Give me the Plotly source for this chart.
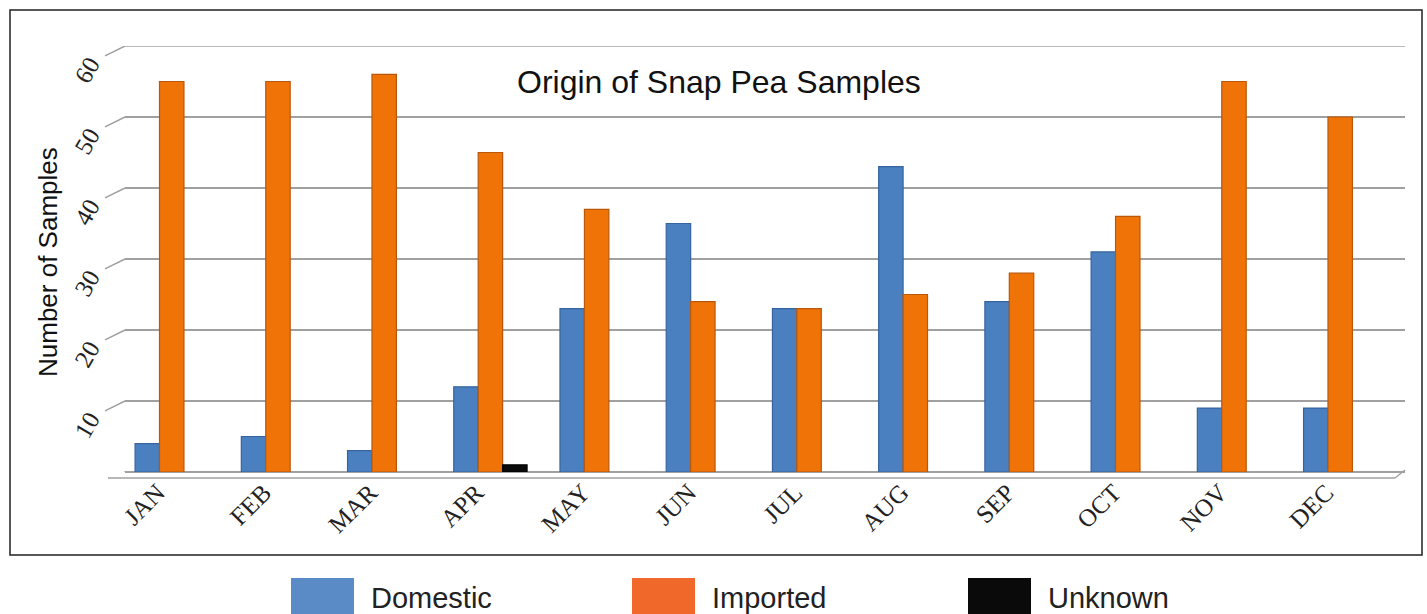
import plotly.graph_objects as go

months = ["JAN", "FEB", "MAR", "APR", "MAY", "JUN", "JUL", "AUG", "SEP", "OCT", "NOV", "DEC"]
domestic = [4, 5, 3, 12, 23, 35, 23, 43, 24, 31, 9, 9]
imported = [55, 55, 56, 45, 37, 24, 23, 25, 28, 36, 55, 50]
unknown = [None, None, None, 1, None, None, None, None, None, None, None, None]
ytick_vals = [0, 10, 20, 30, 40, 50, 60]
ytick_text = ["", "10", "20", "30", "40", "50", "60"]

series = [
    ("Domestic", domestic, "#4A7FC0", "#35649E", "#5B8BC6"),
    ("Imported", imported, "#F07308", "#B9580A", "#F0682A"),
    ("Unknown", unknown, "#0A0A0A", "#000000", "#0A0A0A"),
]

W, H = 1427, 614
L, R, T, B = 125, 22, 46, 142
pw, ph = W - L - R, H - T - B


def px2paper(x, y):
    return (x - L) / pw, (H - B - y) / ph


fig = go.Figure()
for name, vals, col, line, _ in series:
    fig.add_trace(go.Bar(
        x=months, y=vals, name=name,
        marker=dict(color=col, line=dict(color=line, width=1.2)),
        showlegend=False,
    ))

shapes = []
# outer frame
x0, y0 = px2paper(10, 555)
x1, y1 = px2paper(1422, 10)
shapes.append(dict(type="rect", xref="paper", yref="paper", x0=x0, y0=y0, x1=x1, y1=y1,
                   line=dict(color="#222", width=1.5), fillcolor="rgba(0,0,0,0)", layer="below"))
# perspective slants on the left of gridlines
for v in ytick_vals:
    shapes.append(dict(type="line", xref="paper", yref="y",
                       x0=px2paper(105, 0)[0], x1=0, y0=v - 1.4, y1=v,
                       line=dict(color="#A0A0A0", width=1.5)))
# top gridline (at range edge)
shapes.append(dict(type="line", xref="paper", yref="y", x0=0, x1=1, y0=60, y1=60,
                   line=dict(color="#A0A0A0", width=1.5)))
# front floor edge
fx0, fy = px2paper(108, 478)
fx1, _ = px2paper(1395, 478)
bx1, by = px2paper(1405, 470)
shapes.append(dict(type="line", xref="paper", yref="paper", x0=fx0, x1=fx1, y0=fy, y1=fy,
                   line=dict(color="#A0A0A0", width=1.5)))
shapes.append(dict(type="line", xref="paper", yref="paper", x0=fx1, x1=bx1, y0=fy, y1=by,
                   line=dict(color="#A0A0A0", width=1.5)))

annotations = []
# custom legend
leg_x = [291, 632, 968]
for (name, _, _, _, swatch), lx in zip(series, leg_x):
    sx0, sy0 = px2paper(lx, 614)
    sx1, sy1 = px2paper(lx + 63, 578)
    shapes.append(dict(type="rect", xref="paper", yref="paper", x0=sx0, y0=sy0, x1=sx1, y1=sy1,
                       line=dict(width=0), fillcolor=swatch))
    tx, ty = px2paper(lx + 78, 598)
    annotations.append(dict(text=name, xref="paper", yref="paper", x=tx, y=ty,
                            xanchor="left", yanchor="middle", showarrow=False,
                            font=dict(family="Liberation Sans, Arial", size=29, color="#222")))

# title
tx, ty = px2paper(719, 82)
annotations.append(dict(text="Origin of Snap Pea Samples", xref="paper", yref="paper", x=tx, y=ty,
                        xanchor="center", yanchor="middle", showarrow=False,
                        font=dict(family="Liberation Sans, Arial", size=32, color="#111")))
# y title
tx, ty = px2paper(48, 262)
annotations.append(dict(text="Number of Samples", xref="paper", yref="paper", x=tx, y=ty,
                        xanchor="center", yanchor="middle", showarrow=False, textangle=-90,
                        font=dict(family="Liberation Sans, Arial", size=26, color="#111")))

fig.update_layout(
    width=W, height=H,
    margin=dict(l=L, r=R, t=T, b=B),
    paper_bgcolor="white", plot_bgcolor="white",
    barmode="group", bargap=0.31, bargroupgap=0,
    shapes=shapes, annotations=annotations,
    showlegend=False,
)
fig.update_xaxes(
    range=[-0.44, 11.61], showgrid=False, zeroline=False, showline=False,
    tickangle=-45, ticks="", ticklabelshift=-14,
    tickfont=dict(family="Liberation Serif, Times New Roman", size=25, color="#222"),
)
fig.update_yaxes(
    range=[0, 60], tickvals=ytick_vals, ticktext=ytick_text,
    showgrid=True, gridcolor="#A0A0A0", gridwidth=1.5,
    zeroline=True, zerolinecolor="#A0A0A0", zerolinewidth=1.5,
    showline=False, ticks="", tickangle=-60,
    ticklabelstandoff=34, ticklabelshift=15,
    tickfont=dict(family="Liberation Serif, Times New Roman", size=25, color="#222"),
)

fig.write_html("out.html")
